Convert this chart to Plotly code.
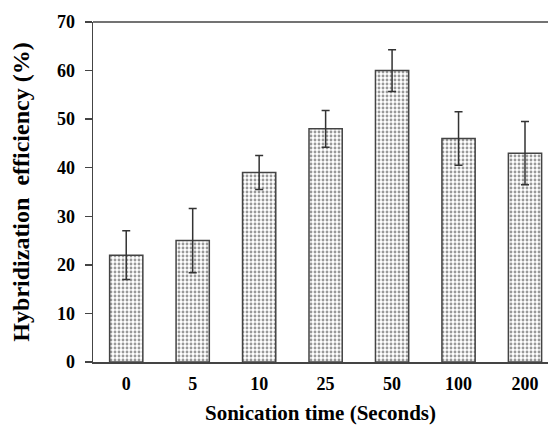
import plotly.graph_objects as go

categories = ["0", "5", "10", "25", "50", "100", "200"]
efficiency = [22, 25, 39, 48, 60, 46, 43]
errors = [5.0, 6.6, 3.5, 3.8, 4.3, 5.5, 6.5]
y_ticks = [0, 10, 20, 30, 40, 50, 60, 70]

FONT = "Liberation Serif"
AX = "#444444"

fig = go.Figure(go.Bar(
    x=categories, y=efficiency, width=0.5, hoverinfo="skip",
    marker=dict(color="white", line=dict(color=AX, width=1.5),
                pattern=dict(shape=".", size=4, solidity=0.4, fgcolor="#333333", bgcolor="white")),
    error_y=dict(type="data", array=errors, visible=True, color="#333333", thickness=1.5, width=4),
))

fig.update_layout(
    width=548, height=430,
    margin=dict(l=93, r=0, t=22, b=68),
    paper_bgcolor="white", plot_bgcolor="white",
    showlegend=False, hovermode=False, dragmode=False,
    font=dict(family=FONT, size=18, color="black"),
    xaxis=dict(type="category", range=[-0.5, 6.346], showline=True, linecolor=AX, linewidth=1.5,
               mirror=False, ticks="", showgrid=False, ticklabelstandoff=5,
               tickfont=dict(family=FONT, size=18, weight="bold"),
               title=dict(text="<b>Sonication time (Seconds)</b>", font=dict(family=FONT, size=21), standoff=12)),
    yaxis=dict(range=[0, 70], tickvals=y_ticks, showline=True, linecolor=AX, linewidth=1.5,
               mirror=False, ticks="outside", ticklen=7, tickcolor=AX, tickwidth=1.5,
               showgrid=False, zeroline=False, ticklabelstandoff=6,
               tickfont=dict(family=FONT, size=18, weight="bold"),
               title=dict(text="<b>Hybridization  efficiency (%)</b>", font=dict(family=FONT, size=24), standoff=20)),
    shapes=[
        dict(type="rect", xref="paper", yref="paper", x0=0.99, x1=1.02, y0=0.006, y1=0.995,
             fillcolor="white", line=dict(width=0), layer="above"),
        dict(type="line", xref="paper", yref="paper", x0=0, x1=1, y0=1, y1=1,
             line=dict(color=AX, width=1.5)),
    ],
)

fig.write_html("out.html", config={"displayModeBar": False, "staticPlot": True},
               post_script="document.body.style.margin='0';document.body.style.overflow='hidden';")
